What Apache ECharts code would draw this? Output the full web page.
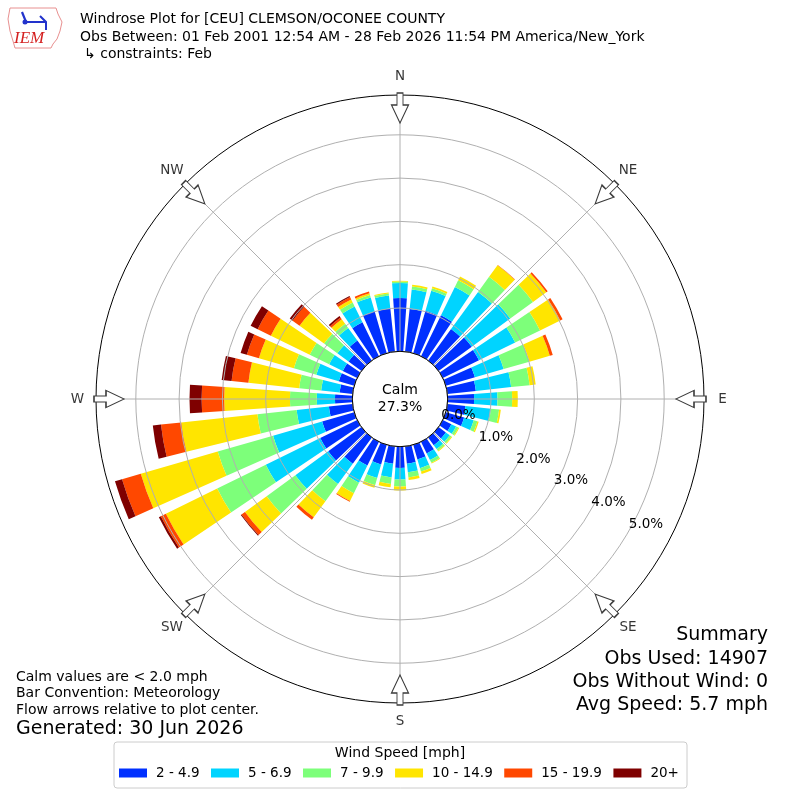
<!DOCTYPE html>
<html><head><meta charset="utf-8">
<script src="https://cdn.jsdelivr.net/npm/echarts@6/dist/echarts.min.js"></script>
<style>html,body{margin:0;padding:0;background:#fff}#c{width:800px;height:800px}</style>
</head><body><div id="c"></div>
<script>
// ---------------- data ----------------
const DIRECTIONS = [0,10,20,30,40,50,60,70,80,90,100,110,120,130,140,150,160,170,
                    180,190,200,210,220,230,240,250,260,270,280,290,300,310,320,330,340,350];
const SPEED_BINS = ['2 - 4.9','5 - 6.9','7 - 9.9','10 - 14.9','15 - 19.9','20+'];
const BIN_COLORS = ['#0030ff','#00d4ff','#7dff7a','#ffe500','#ff4800','#7f0000'];
// percent of observations per direction and speed bin
const S_2_5   = [1.23,0.99,1.02,1.05,0.90,0.95,0.93,0.70,0.66,0.61,0.42,0.44,0.22,0.21,0.22,0.30,0.35,0.40,
                 0.49,0.40,0.47,0.61,0.75,0.95,0.95,0.77,0.55,0.40,0.30,0.37,0.37,0.37,0.57,0.87,1.01,1.00];
const S_5_7   = [0.35,0.45,0.48,0.73,1.06,1.10,0.93,0.69,0.82,0.54,0.59,0.23,0.12,0.11,0.11,0.17,0.21,0.20,
                 0.27,0.32,0.33,0.44,0.58,0.94,1.40,1.18,0.75,0.42,0.43,0.54,0.35,0.32,0.36,0.41,0.33,0.30];
const S_7_10  = [0.03,0.07,0.06,0.17,0.43,0.65,0.64,0.62,0.43,0.34,0.19,0.09,0.06,0.05,0.05,0.07,0.08,0.12,
                 0.16,0.15,0.17,0.27,0.49,0.82,1.25,1.33,0.91,0.62,0.51,0.54,0.50,0.38,0.12,0.10,0.06,0.05];
const S_10_15 = [0.02,0.04,0.04,0.10,0.33,0.38,0.52,0.49,0.14,0.13,0.04,0.03,0.02,0.02,0.02,0.02,0.06,0.06,
                 0.09,0.08,0.06,0.20,0.46,0.62,1.32,1.85,1.77,1.52,1.18,0.84,1.00,0.70,0.13,0.08,0.04,0.02];
const S_15_20 = [0,0,0,0,0.01,0.04,0.06,0.07,0,0,0,0,0,0,0,0,0,0,
                 0,0,0,0.02,0.07,0.10,0.13,0.45,0.47,0.52,0.39,0.29,0.34,0.20,0.05,0.06,0.04,0];
const S_20P   = [0,0,0,0,0,0,0,0,0,0,0,0,0,0,0,0,0,0,
                 0,0,0,0,0,0.02,0.05,0.17,0.19,0.28,0.23,0.15,0.18,0.08,0.04,0.03,0,0];
const BIN_DATA = [S_2_5, S_5_7, S_7_10, S_10_15, S_15_20, S_20P];
const COMPASS_LABELS = ['N','NE','E','SE','S','SW','W','NW'];
const COMPASS_ANGLES = [0,45,90,135,180,225,270,315];
const RING_MAX = 5;          // rings 0% .. 5%
const CALM_PCT = 27.3;

// ---------------- layout ----------------
const FONT = 'DejaVu Sans';
const CX = 400, CY = 399;
const R_IN = 47.7, R_5 = 264.2, R_OUT = 304;
const PX_PER_PCT = (R_5 - R_IN) / RING_MAX;
const RMAX = (R_OUT - R_IN) / PX_PER_PCT;
const ARROW_R = (291 - R_IN) / PX_PER_PCT;
const LABEL_R = (322.5 - R_IN) / PX_PER_PCT;
const ARROW_PATH = 'path://M-3,0 L3,0 L3,12 L8.5,12 L0,30 L-8.5,12 L-3,12 Z';

const chart = echarts.init(document.getElementById('c'), null, {renderer: 'canvas'});

const barSeries = BIN_DATA.map((d, i) => ({
  type: 'bar', name: SPEED_BINS[i], coordinateSystem: 'polar', polarIndex: 0,
  stack: 'wind', data: d, barCategoryGap: '22%', silent: true,
  itemStyle: {color: BIN_COLORS[i]}, z: 2
}));

const arrowSeries = {
  type: 'scatter', coordinateSystem: 'polar', polarIndex: 2, silent: true, clip: false,
  data: COMPASS_ANGLES.map(a => [ARROW_R, a]),
  symbol: ARROW_PATH, symbolSize: [17, 30],
  symbolRotate: (v) => -v[1],
  itemStyle: {color: '#fff', borderColor: '#3a3a3a', borderWidth: 1.2, opacity: 1},
  z: 6
};

const compassLabelSeries = {
  type: 'scatter', coordinateSystem: 'polar', polarIndex: 2, silent: true, clip: false,
  data: COMPASS_ANGLES.map((a, i) => ({value: [LABEL_R, a], name: COMPASS_LABELS[i]})),
  symbol: 'circle', symbolSize: 1,
  itemStyle: {color: 'rgba(0,0,0,0)'},
  label: {show: true, position: 'inside', formatter: p => p.name, color: '#000',
    fontSize: 13.5, fontFamily: FONT, align: 'center', verticalAlign: 'middle'},
  z: 6
};

const txt = (text, x, y, size, align, extra) => Object.assign({
  type: 'text', silent: true,
  style: Object.assign({text, x, y, fontSize: size, fontFamily: FONT, fill: '#000',
    textAlign: align || 'left', textVerticalAlign: 'middle'}, extra || {})
}, {z: 10});

const graphics = [
  // logo
  {type: 'polyline', silent: true, shape: {points: [[10,8],[56,8],[58,14],[62,22],[60,31],[57,39],[53,44],[51,48],[15,48],[13,41],[10,31],[8,19],[10,8]]},
   style: {stroke: '#e89090', fill: null, lineWidth: 1}},
  {type: 'polyline', silent: true, shape: {points: [[22,12],[26,22],[46,22]]}, style: {stroke: '#2233cc', lineWidth: 2.2, fill: null}},
  {type: 'polyline', silent: true, shape: {points: [[40,16],[46,22],[46,30]]}, style: {stroke: '#2233cc', lineWidth: 2, fill: null}},
  {type: 'circle', silent: true, shape: {cx: 25, cy: 22, r: 2.5}, style: {fill: '#2233cc'}},
  txt('IEM', 14, 39, 17, 'left', {fill: '#d42020', fontFamily: 'Liberation Serif', fontStyle: 'italic'}),
  // titles
  txt('Windrose Plot for [CEU] CLEMSON/OCONEE COUNTY', 80, 19, 14),
  txt('Obs Between: 01 Feb 2001 12:54 AM - 28 Feb 2026 11:54 PM America/New_York', 80, 37, 14),
  txt('\u21b3 constraints: Feb', 84, 54, 14),
  // calm
  txt('Calm', CX, 390, 14, 'center'),
  txt(CALM_PCT.toFixed(1) + '%', CX, 407, 14, 'center'),
  // notes
  txt('Calm values are < 2.0 mph', 16, 677, 14),
  txt('Bar Convention: Meteorology', 16, 693, 14),
  txt('Flow arrows relative to plot center.', 16, 710, 14),
  txt('Generated: 30 Jun 2026', 16, 729, 19),
  // summary
  txt('Summary', 768, 635, 19, 'right'),
  txt('Obs Used: 14907', 768, 659, 19, 'right'),
  txt('Obs Without Wind: 0', 768, 682, 19, 'right'),
  txt('Avg Speed: 5.7 mph', 768, 705, 19, 'right'),
  // legend frame
  {type: 'rect', silent: true, shape: {x: 114, y: 742, width: 573, height: 46, r: 3},
   style: {fill: '#fff', stroke: '#cccccc', lineWidth: 1}, z: 1},
  txt('Wind Speed [mph]', 400, 753, 14, 'center')
];

chart.setOption({
  animation: false,
  backgroundColor: '#fff',
  textStyle: {fontFamily: FONT},
  polar: [
    {center: [CX, CY], radius: [R_IN, R_OUT]},
    {center: [CX, CY], radius: [R_IN, R_5]},
    {center: [CX, CY], radius: [R_IN, R_OUT]}
  ],
  angleAxis: [
    {polarIndex: 0, type: 'category', data: DIRECTIONS.map(String), startAngle: 95, clockwise: true,
     boundaryGap: true, axisLine: {show: false}, axisTick: {show: false}, axisLabel: {show: false},
     splitLine: {show: false}},
    {polarIndex: 1, type: 'value', min: 0, max: 360, startAngle: -30, clockwise: true,
     axisLine: {show: false}, axisTick: {show: false}, axisLabel: {show: false}, splitLine: {show: false}},
    {polarIndex: 2, type: 'value', min: 0, max: 360, interval: 45, startAngle: 90, clockwise: true, z: 3,
     axisLine: {show: true, lineStyle: {color: '#000', width: 1}},
     axisTick: {show: false}, axisLabel: {show: false},
     splitLine: {show: true, lineStyle: {color: '#b0b0b0', width: 1}}}
  ],
  radiusAxis: [
    {polarIndex: 0, type: 'value', min: 0, max: RMAX, show: false},
    {polarIndex: 1, type: 'value', min: 0, max: RING_MAX, interval: 1, z: 3,
     axisLine: {show: false}, axisTick: {show: false},
     splitLine: {show: true, lineStyle: {color: '#b0b0b0', width: 1}},
     axisLabel: {show: true, margin: 0, color: '#000', fontSize: 13.5, fontFamily: FONT,
       align: 'left', verticalAlign: 'bottom', formatter: v => v.toFixed(1) + '%'}},
    {polarIndex: 2, type: 'value', min: 0, max: RMAX, show: false}
  ],
  legend: {data: SPEED_BINS, left: 119, top: 766, padding: 0, itemWidth: 28, itemHeight: 9,
    itemGap: 11.5, icon: 'rect', selectedMode: false, z: 12,
    textStyle: {fontSize: 13.5, fontFamily: FONT, color: '#000', padding: [0, 0, 0, 4]}},
  graphic: graphics,
  series: barSeries.concat([arrowSeries, compassLabelSeries])
});
</script>
</body></html>
